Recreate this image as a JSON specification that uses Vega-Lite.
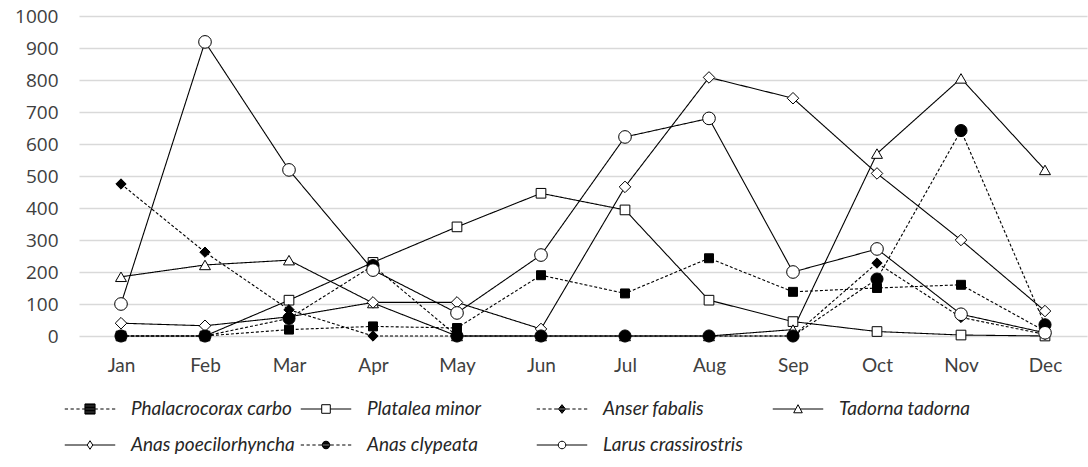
{
  "$schema": "https://vega.github.io/schema/vega-lite/v6.json",
  "width": 1008,
  "height": 320,
  "padding": {"left": 14, "top": 7, "right": 6, "bottom": 0},
  "background": "white",
  "config": {
    "view": {"stroke": null},
    "axis": {"domain": false, "ticks": false, "title": null, "labelColor": "#404040"}
  },
  "datasets": {
    "birds": [
      {"species": "Phalacrocorax carbo", "month": "Jan", "count": 0},
      {"species": "Phalacrocorax carbo", "month": "Feb", "count": 0},
      {"species": "Phalacrocorax carbo", "month": "Mar", "count": 20},
      {"species": "Phalacrocorax carbo", "month": "Apr", "count": 30},
      {"species": "Phalacrocorax carbo", "month": "May", "count": 25},
      {"species": "Phalacrocorax carbo", "month": "Jun", "count": 190},
      {"species": "Phalacrocorax carbo", "month": "Jul", "count": 133},
      {"species": "Phalacrocorax carbo", "month": "Aug", "count": 243},
      {"species": "Phalacrocorax carbo", "month": "Sep", "count": 138},
      {"species": "Phalacrocorax carbo", "month": "Oct", "count": 150},
      {"species": "Phalacrocorax carbo", "month": "Nov", "count": 160},
      {"species": "Phalacrocorax carbo", "month": "Dec", "count": 15},
      {"species": "Platalea minor", "month": "Jan", "count": 0},
      {"species": "Platalea minor", "month": "Feb", "count": 0},
      {"species": "Platalea minor", "month": "Mar", "count": 112},
      {"species": "Platalea minor", "month": "Apr", "count": 230},
      {"species": "Platalea minor", "month": "May", "count": 341},
      {"species": "Platalea minor", "month": "Jun", "count": 446},
      {"species": "Platalea minor", "month": "Jul", "count": 394},
      {"species": "Platalea minor", "month": "Aug", "count": 112},
      {"species": "Platalea minor", "month": "Sep", "count": 45},
      {"species": "Platalea minor", "month": "Oct", "count": 14},
      {"species": "Platalea minor", "month": "Nov", "count": 3},
      {"species": "Platalea minor", "month": "Dec", "count": 0},
      {"species": "Anser fabalis", "month": "Jan", "count": 475},
      {"species": "Anser fabalis", "month": "Feb", "count": 262},
      {"species": "Anser fabalis", "month": "Mar", "count": 82},
      {"species": "Anser fabalis", "month": "Apr", "count": 0},
      {"species": "Anser fabalis", "month": "May", "count": 0},
      {"species": "Anser fabalis", "month": "Jun", "count": 0},
      {"species": "Anser fabalis", "month": "Jul", "count": 0},
      {"species": "Anser fabalis", "month": "Aug", "count": 0},
      {"species": "Anser fabalis", "month": "Sep", "count": 0},
      {"species": "Anser fabalis", "month": "Oct", "count": 228},
      {"species": "Anser fabalis", "month": "Nov", "count": 58},
      {"species": "Anser fabalis", "month": "Dec", "count": 5},
      {"species": "Tadorna tadorna", "month": "Jan", "count": 185},
      {"species": "Tadorna tadorna", "month": "Feb", "count": 222},
      {"species": "Tadorna tadorna", "month": "Mar", "count": 237},
      {"species": "Tadorna tadorna", "month": "Apr", "count": 103},
      {"species": "Tadorna tadorna", "month": "May", "count": 0},
      {"species": "Tadorna tadorna", "month": "Jun", "count": 0},
      {"species": "Tadorna tadorna", "month": "Jul", "count": 0},
      {"species": "Tadorna tadorna", "month": "Aug", "count": 0},
      {"species": "Tadorna tadorna", "month": "Sep", "count": 20},
      {"species": "Tadorna tadorna", "month": "Oct", "count": 570},
      {"species": "Tadorna tadorna", "month": "Nov", "count": 805},
      {"species": "Tadorna tadorna", "month": "Dec", "count": 519},
      {"species": "Anas poecilorhyncha", "month": "Jan", "count": 40},
      {"species": "Anas poecilorhyncha", "month": "Feb", "count": 32},
      {"species": "Anas poecilorhyncha", "month": "Mar", "count": 60},
      {"species": "Anas poecilorhyncha", "month": "Apr", "count": 105},
      {"species": "Anas poecilorhyncha", "month": "May", "count": 105},
      {"species": "Anas poecilorhyncha", "month": "Jun", "count": 22},
      {"species": "Anas poecilorhyncha", "month": "Jul", "count": 466},
      {"species": "Anas poecilorhyncha", "month": "Aug", "count": 808},
      {"species": "Anas poecilorhyncha", "month": "Sep", "count": 743},
      {"species": "Anas poecilorhyncha", "month": "Oct", "count": 508},
      {"species": "Anas poecilorhyncha", "month": "Nov", "count": 300},
      {"species": "Anas poecilorhyncha", "month": "Dec", "count": 78},
      {"species": "Anas clypeata", "month": "Jan", "count": 0},
      {"species": "Anas clypeata", "month": "Feb", "count": 0},
      {"species": "Anas clypeata", "month": "Mar", "count": 55},
      {"species": "Anas clypeata", "month": "Apr", "count": 220},
      {"species": "Anas clypeata", "month": "May", "count": 0},
      {"species": "Anas clypeata", "month": "Jun", "count": 0},
      {"species": "Anas clypeata", "month": "Jul", "count": 0},
      {"species": "Anas clypeata", "month": "Aug", "count": 0},
      {"species": "Anas clypeata", "month": "Sep", "count": 0},
      {"species": "Anas clypeata", "month": "Oct", "count": 178},
      {"species": "Anas clypeata", "month": "Nov", "count": 642},
      {"species": "Anas clypeata", "month": "Dec", "count": 35},
      {"species": "Larus crassirostris", "month": "Jan", "count": 100},
      {"species": "Larus crassirostris", "month": "Feb", "count": 919},
      {"species": "Larus crassirostris", "month": "Mar", "count": 519},
      {"species": "Larus crassirostris", "month": "Apr", "count": 206},
      {"species": "Larus crassirostris", "month": "May", "count": 72},
      {"species": "Larus crassirostris", "month": "Jun", "count": 253},
      {"species": "Larus crassirostris", "month": "Jul", "count": 622},
      {"species": "Larus crassirostris", "month": "Aug", "count": 680},
      {"species": "Larus crassirostris", "month": "Sep", "count": 200},
      {"species": "Larus crassirostris", "month": "Oct", "count": 272},
      {"species": "Larus crassirostris", "month": "Nov", "count": 68},
      {"species": "Larus crassirostris", "month": "Dec", "count": 10}
    ]
  },
  "data": {"name": "birds"},
  "encoding": {
    "x": {
      "field": "month",
      "type": "ordinal",
      "scale": {"type": "point", "padding": 0.5, "domain": ["Jan", "Feb", "Mar", "Apr", "May", "Jun", "Jul", "Aug", "Sep", "Oct", "Nov", "Dec"]},
      "axis": {"labelAngle": 0, "labelFont": "Lato", "labelFontSize": 19, "labelPadding": 20, "grid": false}
    },
    "y": {
      "field": "count",
      "type": "quantitative",
      "scale": {"domain": [0, 1000], "nice": false},
      "axis": {"values": [0, 100, 200, 300, 400, 500, 600, 700, 800, 900, 1000], "format": "d", "labelFont": "Open Sans", "labelFontSize": 19, "labelPadding": 21, "grid": true, "gridColor": "#d9d9d9", "gridWidth": 1.5}
    }
  },
  "layer": [
    {
      "transform": [{"filter": "false"}],
      "mark": {"type": "point", "filled": false, "color": "black", "strokeWidth": 1, "opacity": 1},
      "encoding": {
        "shape": {
          "field": "species",
          "type": "nominal",
          "scale": {
            "domain": ["Phalacrocorax carbo", "Platalea minor", "Anser fabalis", "Tadorna tadorna", "Anas poecilorhyncha", "Anas clypeata", "Larus crassirostris"],
            "range": [
              "M-1,0L-0.87,0M-0.77,0L-0.64,0M-0.54,0L-0.41,0M-0.31,0L-0.2,0M0.2,0L0.31,0M0.41,0L0.54,0M0.64,0L0.77,0M0.87,0L1,0M-0.2,-0.2L0.2,-0.2L0.2,0.2L-0.2,0.2ZM-0.2,-0.18L0.2,-0.18M-0.2,-0.15L0.2,-0.15M-0.2,-0.12L0.2,-0.12M-0.2,-0.09L0.2,-0.09M-0.2,-0.06L0.2,-0.06M-0.2,-0.03L0.2,-0.03M-0.2,0L0.2,0M-0.2,0.03L0.2,0.03M-0.2,0.06L0.2,0.06M-0.2,0.09L0.2,0.09M-0.2,0.12L0.2,0.12M-0.2,0.15L0.2,0.15M-0.2,0.18L0.2,0.18",
              "M-1,0L-0.17,0M0.17,0L1,0M-0.17,-0.17L0.17,-0.17L0.17,0.17L-0.17,0.17Z",
              "M-1,0L-0.87,0M-0.77,0L-0.64,0M-0.54,0L-0.41,0M-0.31,0L-0.14,0M0.14,0L0.31,0M0.41,0L0.54,0M0.64,0L0.77,0M0.87,0L1,0M0,-0.17L0.14,0L0,0.17L-0.14,0ZM-0.016,-0.15L0.016,-0.15M-0.041,-0.12L0.041,-0.12M-0.066,-0.09L0.066,-0.09M-0.091,-0.06L0.091,-0.06M-0.115,-0.03L0.115,-0.03M-0.115,0.03L0.115,0.03M-0.091,0.06L0.091,0.06M-0.066,0.09L0.066,0.09M-0.041,0.12L0.041,0.12M-0.016,0.15L0.016,0.15",
              "M-1,0L-0.09,0M0.09,0L1,0M0,-0.17L0.17,0.15L-0.17,0.15Z",
              "M-1,0L-0.11,0M0.11,0L1,0M0,-0.17L0.11,0L0,0.17L-0.11,0Z",
              "M-1,0L-0.87,0M-0.77,0L-0.64,0M-0.54,0L-0.41,0M-0.31,0L-0.15,0M0.15,0L0.31,0M0.41,0L0.54,0M0.64,0L0.77,0M0.87,0L1,0M0.15,0A0.15,0.15,0,1,1,-0.15,0A0.15,0.15,0,1,1,0.15,0ZM-0.075,-0.13L0.075,-0.13M-0.12,-0.09L0.12,-0.09M-0.1375,-0.06L0.1375,-0.06M-0.147,-0.03L0.147,-0.03M-0.147,0.03L0.147,0.03M-0.1375,0.06L0.1375,0.06M-0.12,0.09L0.12,0.09M-0.075,0.13L0.075,0.13M-0.1,-0.11L0.1,-0.11M-0.1,0.11L0.1,0.11",
              "M-1,0L-0.15,0M0.15,0L1,0M0.15,0A0.15,0.15,0,1,1,-0.15,0A0.15,0.15,0,1,1,0.15,0Z"
            ]
          },
          "legend": {
            "title": null,
            "orient": "none",
            "legendX": -15,
            "legendY": 367,
            "direction": "horizontal",
            "columns": 4,
            "gridAlign": "all",
            "columnPadding": 3,
            "rowPadding": 0,
            "symbolSize": 2550,
            "symbolFillColor": "white",
            "symbolStrokeColor": "black",
            "symbolStrokeWidth": 1,
            "symbolOpacity": 1,
            "labelFont": "Lato",
            "labelFontStyle": "italic",
            "labelFontSize": 19,
            "labelColor": "#262626",
            "labelOffset": 15,
            "labelLimit": 400,
            "encode": {
              "symbols": {
                "update": {
                  "size": {"value": 3600},
                  "fill": {"value": "white"},
                  "stroke": {"value": "black"},
                  "strokeWidth": {"value": 1},
                  "opacity": {"value": 1}
                }
              }
            }
          }
        }
      }
    },
    {
      "mark": {"type": "line", "stroke": "black", "strokeWidth": 1.1},
      "encoding": {
        "detail": {"field": "species"},
        "strokeDash": {
          "field": "species",
          "type": "nominal",
          "scale": {
            "domain": ["Phalacrocorax carbo", "Platalea minor", "Anser fabalis", "Tadorna tadorna", "Anas poecilorhyncha", "Anas clypeata", "Larus crassirostris"],
            "range": [[3, 2], [1, 0], [3, 2], [1, 0], [1, 0], [3, 2], [1, 0]]
          },
          "legend": null
        }
      }
    },
    {
      "mark": {"type": "point", "filled": true, "stroke": "black", "strokeWidth": 1, "opacity": 1},
      "encoding": {
        "shape": {
          "field": "species",
          "type": "nominal",
          "scale": {
            "domain": ["Phalacrocorax carbo", "Platalea minor", "Anser fabalis", "Tadorna tadorna", "Anas poecilorhyncha", "Anas clypeata", "Larus crassirostris"],
            "range": ["square", "square", "diamond", "triangle-up", "diamond", "circle", "circle"]
          },
          "legend": null
        },
        "fill": {
          "field": "species",
          "type": "nominal",
          "scale": {
            "domain": ["Phalacrocorax carbo", "Platalea minor", "Anser fabalis", "Tadorna tadorna", "Anas poecilorhyncha", "Anas clypeata", "Larus crassirostris"],
            "range": ["black", "white", "black", "white", "white", "black", "white"]
          },
          "legend": null
        },
        "size": {
          "field": "species",
          "type": "nominal",
          "scale": {
            "domain": ["Phalacrocorax carbo", "Platalea minor", "Anser fabalis", "Tadorna tadorna", "Anas poecilorhyncha", "Anas clypeata", "Larus crassirostris"],
            "range": [80, 160, 60, 160, 100, 50, 150]
          },
          "legend": null
        }
      }
    }
  ],
  "resolve": {"scale": {"shape": "independent"}}
}
